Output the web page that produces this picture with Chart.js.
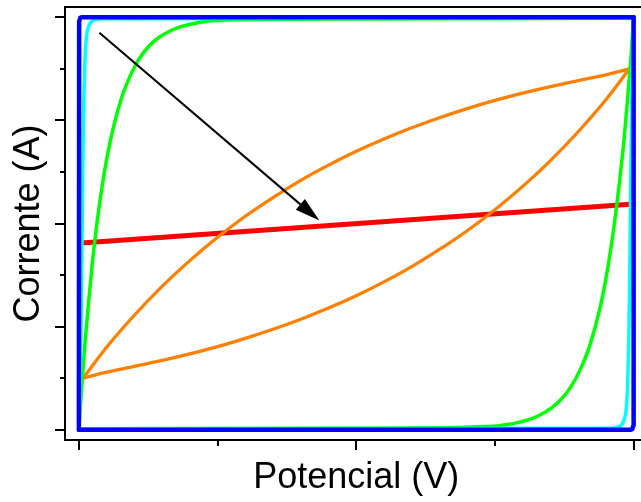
<!DOCTYPE html>
<html>
<head>
<meta charset="utf-8">
<script src="https://cdn.jsdelivr.net/npm/chart.js@4.4.1/dist/chart.umd.min.js"></script>
<style>
  html, body { margin: 0; padding: 0; overflow: hidden; background: #fff; }
  #wrap { width: 660px; height: 502px; }
</style>
</head>
<body>
<div id="wrap"><canvas id="cv" width="660" height="502"></canvas></div>
<script>
// Tick positions (no labels are printed, only marks)
const xMajorTicks = [-1, 0, 1];
const xMinorTicks = [-0.5, 0.5];
const yMajorTicks = [-1, -0.5, 0, 0.5, 1];
const yMinorTicks = [-0.75, -0.25, 0.25, 0.75];

// Voltammograms: each loop is split into its forward (upper) and reverse (lower) branch
const blueUp   = [[-1, -1], [-0.999, 0.98], [-0.995, 0.997], [-0.99, 1], [1, 1]];
const blueDown = [[-1, -1], [0.99, -1], [0.995, -0.997], [0.999, -0.98], [1, 1]];

const cyanUp = [[-1, -1], [-0.9946, -0.757], [-0.991, -0.369], [-0.988, 0], [-0.985, 0.359],
  [-0.982, 0.602], [-0.978, 0.796], [-0.973, 0.903], [-0.966, 0.951], [-0.957, 0.976],
  [-0.942, 0.988], [-0.917, 0.993], [1, 0.995]];
const cyanDown = [[-1, -0.995], [0.917, -0.993], [0.942, -0.988], [0.957, -0.976], [0.966, -0.951],
  [0.973, -0.903], [0.978, -0.796], [0.982, -0.602], [0.985, -0.359], [0.988, 0],
  [0.991, 0.369], [0.9946, 0.757], [1, 1]];

const greenUp = [[-1, -0.995], [-0.990, -0.796], [-0.979, -0.597], [-0.966, -0.398], [-0.952, -0.199],
  [-0.935, 0.0], [-0.914, 0.199], [-0.887, 0.398], [-0.849, 0.597], [-0.815, 0.716],
  [-0.784, 0.796], [-0.750, 0.856], [-0.718, 0.896], [-0.670, 0.935], [-0.632, 0.955],
  [-0.567, 0.975], [-0.502, 0.985], [0, 0.992], [1, 0.995]];
const greenDown = [[-1, -0.995], [0, -0.993], [0.476, -0.985], [0.544, -0.975], [0.613, -0.955],
  [0.653, -0.935], [0.703, -0.895], [0.737, -0.855], [0.772, -0.796], [0.805, -0.716],
  [0.841, -0.596], [0.881, -0.397], [0.909, -0.197], [0.931, 0.003], [0.949, 0.202],
  [0.965, 0.401], [0.978, 0.601], [0.990, 0.80], [1, 1]];

const orangeUp = [[-0.985, -0.75], [-0.9, -0.600], [-0.8, -0.445], [-0.7, -0.305], [-0.6, -0.180],
  [-0.5, -0.067], [-0.4, 0.035], [-0.3, 0.126], [-0.2, 0.209], [-0.1, 0.283], [0, 0.350],
  [0.1, 0.410], [0.2, 0.464], [0.3, 0.513], [0.4, 0.557], [0.5, 0.597], [0.6, 0.632],
  [0.7, 0.664], [0.8, 0.693], [0.9, 0.721], [0.985, 0.75]];
const orangeDown = [[-0.985, -0.75], [-0.9, -0.721], [-0.8, -0.693], [-0.7, -0.664], [-0.6, -0.632],
  [-0.5, -0.597], [-0.4, -0.557], [-0.3, -0.513], [-0.2, -0.464], [-0.1, -0.410], [0, -0.350],
  [0.1, -0.283], [0.2, -0.209], [0.3, -0.126], [0.4, -0.035], [0.5, 0.067], [0.6, 0.180],
  [0.7, 0.305], [0.8, 0.445], [0.9, 0.600], [0.985, 0.75]];

const redLine = [[-0.99, -0.095], [1, 0.095]];

// Trend arrow: tail and tip
const arrowTail = [-0.926, 0.925];
const arrowTip  = [-0.133, 0.014];

const toPoints = arr => arr.map(([x, y]) => ({ x, y }));

function curve(label, data, color, width, mode) {
  return {
    label,
    data: toPoints(data),
    borderColor: color,
    backgroundColor: color,
    borderWidth: width,
    pointRadius: 0,
    fill: false,
    tension: mode === 'straight' ? 0 : 0.4,
    cubicInterpolationMode: mode === 'straight' ? 'default' : 'monotone',
    borderCapStyle: 'round',
    borderJoinStyle: 'round'
  };
}

// Frame, tick marks and the arrow
const decorations = {
  id: 'decorations',
  afterDatasetsDraw(chart) {
    const { ctx, chartArea: a, scales: { x, y } } = chart;
    ctx.save();
    ctx.strokeStyle = '#000';
    ctx.lineWidth = 2;
    ctx.strokeRect(a.left, a.top, a.right - a.left, a.bottom - a.top);

    ctx.beginPath();
    for (const v of yMajorTicks) { const p = Math.round(y.getPixelForValue(v)); ctx.moveTo(a.left - 10, p); ctx.lineTo(a.left, p); }
    for (const v of yMinorTicks) { const p = Math.round(y.getPixelForValue(v)); ctx.moveTo(a.left - 5, p); ctx.lineTo(a.left, p); }
    for (const v of xMajorTicks) { const p = Math.round(x.getPixelForValue(v)); ctx.moveTo(p, a.bottom); ctx.lineTo(p, a.bottom + 10); }
    for (const v of xMinorTicks) { const p = Math.round(x.getPixelForValue(v)); ctx.moveTo(p, a.bottom); ctx.lineTo(p, a.bottom + 6); }
    ctx.stroke();

    const x0 = x.getPixelForValue(arrowTail[0]), y0 = y.getPixelForValue(arrowTail[1]);
    const x1 = x.getPixelForValue(arrowTip[0]),  y1 = y.getPixelForValue(arrowTip[1]);
    const ang = Math.atan2(y1 - y0, x1 - x0);
    const headLen = 25, headHalf = 7;
    const bx = x1 - headLen * Math.cos(ang), by = y1 - headLen * Math.sin(ang);
    ctx.lineWidth = 2;
    ctx.beginPath();
    ctx.moveTo(x0, y0);
    ctx.lineTo(bx, by);
    ctx.stroke();
    ctx.fillStyle = '#000';
    ctx.beginPath();
    ctx.moveTo(x1, y1);
    ctx.lineTo(bx + headHalf * Math.sin(ang), by - headHalf * Math.cos(ang));
    ctx.lineTo(bx - headHalf * Math.sin(ang), by + headHalf * Math.cos(ang));
    ctx.closePath();
    ctx.fill();
    ctx.restore();
  }
};

const titleFont = { family: "'Liberation Sans', Arial, sans-serif", size: 36, weight: 'normal' };

new Chart(document.getElementById('cv'), {
  type: 'line',
  data: {
    datasets: [
      curve('azul ida', blueUp, '#0000ff', 4.5, 'straight'),
      curve('azul volta', blueDown, '#0000ff', 4.5, 'straight'),
      curve('ciano ida', cyanUp, '#00ffff', 3.5),
      curve('ciano volta', cyanDown, '#00ffff', 3.5),
      curve('verde ida', greenUp, '#00ff00', 3.5),
      curve('verde volta', greenDown, '#00ff00', 3.5),
      curve('laranja ida', orangeUp, '#ff8000', 3.3),
      curve('laranja volta', orangeDown, '#ff8000', 3.3),
      curve('vermelho', redLine, '#ff0000', 5, 'straight')
    ]
  },
  options: {
    responsive: false,
    animation: false,
    events: [],
    layout: { padding: { top: 7, right: 12.5, left: 0, bottom: 0 } },
    plugins: { legend: { display: false }, tooltip: { enabled: false } },
    scales: {
      x: {
        type: 'linear',
        min: -1.05, max: 1.05,
        grid: { display: false },
        border: { display: false },
        ticks: { display: false },
        title: { display: true, text: 'Potencial (V)', color: '#000', font: titleFont, padding: { top: 0, bottom: 2 } },
        afterFit(s) { s.height = 62; }
      },
      y: {
        type: 'linear',
        min: -1.05, max: 1.05,
        grid: { display: false },
        border: { display: false },
        ticks: { display: false },
        title: { display: true, text: 'Corrente (A)', color: '#000', font: titleFont, padding: { top: 7.5, bottom: 0 } },
        afterFit(s) { s.width = 65; }
      }
    }
  },
  plugins: [decorations]
});
</script>
</body>
</html>
